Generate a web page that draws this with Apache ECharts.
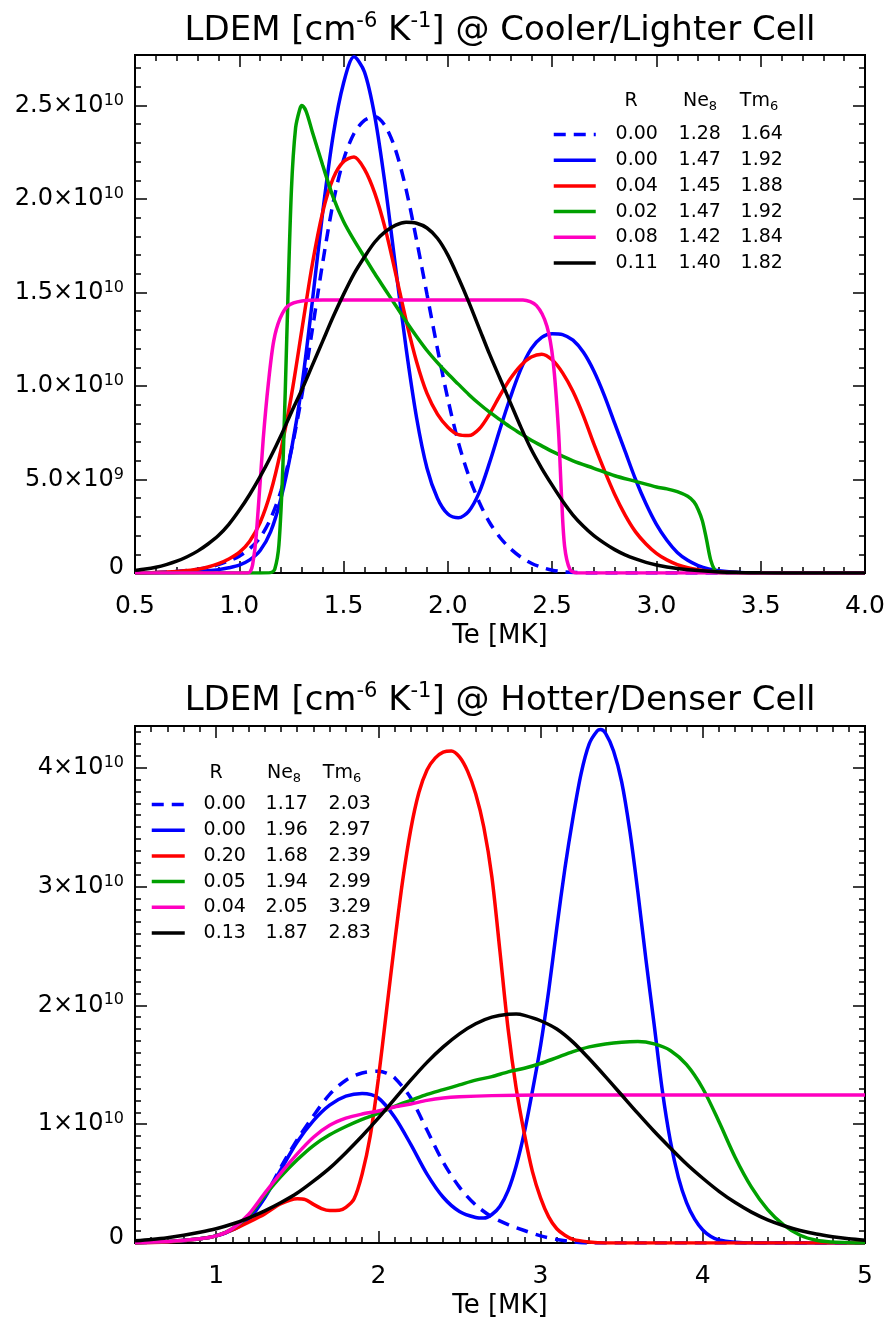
<!DOCTYPE html>
<html>
<head>
<meta charset="utf-8">
<script src="https://cdn.jsdelivr.net/npm/echarts@6/dist/echarts.min.js"></script>
<style>
  html, body { margin: 0; padding: 0; background: #fff; }
  #chart { width: 887px; height: 1324px; }
</style>
</head>
<body>
<div id="chart"></div>
<script>
// LDEM curves: [Te in MK, LDEM in units of 1e10 cm^-6 K^-1]

// ---- Cooler / Lighter cell ----
const coolDashed = [[0.5,0],[0.6,0.003],[0.7,0.008],[0.75,0.013],[0.8,0.02],[0.85,0.03],[0.9,0.045],[0.95,0.065],[1.0,0.09],[1.05,0.13],[1.1,0.19],[1.15,0.29],[1.2,0.44],[1.25,0.66],[1.3,0.95],[1.35,1.3],[1.4,1.66],[1.45,1.98],[1.5,2.21],[1.55,2.35],[1.6,2.42],[1.65,2.44],[1.7,2.39],[1.75,2.26],[1.8,2.05],[1.85,1.78],[1.9,1.49],[1.95,1.2],[2.0,0.93],[2.05,0.7],[2.1,0.52],[2.15,0.38],[2.2,0.27],[2.25,0.19],[2.3,0.13],[2.35,0.085],[2.4,0.052],[2.45,0.03],[2.5,0.015],[2.55,0.007],[2.6,0.003],[2.7,0],[3.0,0],[3.5,0],[4.0,0]];
const coolBlue = [[0.5,0],[0.6,0.001],[0.7,0.003],[0.8,0.008],[0.85,0.012],[0.9,0.018],[0.95,0.028],[1.0,0.042],[1.05,0.07],[1.1,0.12],[1.15,0.22],[1.2,0.4],[1.25,0.66],[1.3,1.0],[1.35,1.45],[1.4,1.93],[1.45,2.34],[1.5,2.62],[1.55,2.76],[1.6,2.68],[1.65,2.44],[1.7,2.07],[1.75,1.63],[1.8,1.2],[1.85,0.83],[1.9,0.56],[1.95,0.4],[2.0,0.315],[2.05,0.295],[2.1,0.33],[2.15,0.43],[2.2,0.59],[2.25,0.77],[2.3,0.94],[2.35,1.09],[2.4,1.2],[2.45,1.26],[2.5,1.28],[2.55,1.275],[2.6,1.245],[2.65,1.18],[2.7,1.08],[2.75,0.95],[2.8,0.8],[2.85,0.65],[2.9,0.5],[2.95,0.37],[3.0,0.26],[3.05,0.175],[3.1,0.11],[3.15,0.068],[3.2,0.04],[3.25,0.022],[3.3,0.012],[3.4,0.003],[3.5,0],[4.0,0]];
const coolRed = [[0.5,0],[0.55,0.001],[0.6,0.003],[0.65,0.005],[0.7,0.008],[0.75,0.013],[0.8,0.02],[0.85,0.032],[0.9,0.05],[0.95,0.075],[1.0,0.11],[1.05,0.17],[1.1,0.27],[1.15,0.43],[1.2,0.66],[1.25,0.95],[1.3,1.3],[1.35,1.65],[1.4,1.93],[1.45,2.11],[1.5,2.2],[1.55,2.225],[1.6,2.16],[1.65,2.03],[1.7,1.84],[1.75,1.6],[1.8,1.35],[1.85,1.13],[1.9,0.96],[1.95,0.85],[2.0,0.78],[2.05,0.74],[2.1,0.735],[2.15,0.77],[2.2,0.85],[2.25,0.95],[2.3,1.04],[2.35,1.11],[2.4,1.155],[2.45,1.17],[2.5,1.14],[2.55,1.07],[2.6,0.97],[2.65,0.84],[2.7,0.69],[2.75,0.55],[2.8,0.42],[2.85,0.31],[2.9,0.22],[2.95,0.155],[3.0,0.105],[3.05,0.07],[3.1,0.045],[3.15,0.028],[3.2,0.017],[3.25,0.01],[3.3,0.006],[3.4,0.002],[3.5,0],[4.0,0]];
const coolGreen = [[0.5,0],[1.1,0],[1.15,0.002],[1.17,0.02],[1.19,0.15],[1.21,0.6],[1.23,1.35],[1.25,2.05],[1.27,2.38],[1.29,2.48],[1.3,2.5],[1.32,2.47],[1.35,2.36],[1.4,2.18],[1.45,2.01],[1.5,1.88],[1.55,1.78],[1.6,1.69],[1.65,1.6],[1.7,1.515],[1.75,1.43],[1.8,1.345],[1.85,1.265],[1.9,1.19],[1.95,1.125],[2.0,1.065],[2.05,1.01],[2.1,0.955],[2.15,0.905],[2.2,0.86],[2.25,0.82],[2.3,0.78],[2.35,0.745],[2.4,0.71],[2.45,0.68],[2.5,0.65],[2.6,0.6],[2.7,0.56],[2.8,0.52],[2.9,0.49],[3.0,0.46],[3.05,0.45],[3.1,0.435],[3.15,0.41],[3.18,0.38],[3.2,0.34],[3.22,0.28],[3.24,0.18],[3.26,0.07],[3.28,0.015],[3.3,0.003],[3.35,0],[4.0,0]];
const coolPink = [[0.5,0],[1.04,0],[1.07,0.09],[1.09,0.33],[1.115,0.72],[1.14,1.02],[1.165,1.24],[1.195,1.36],[1.235,1.43],[1.3,1.455],[1.4,1.46],[1.6,1.46],[1.8,1.46],[2.0,1.46],[2.2,1.46],[2.36,1.46],[2.425,1.43],[2.475,1.32],[2.505,1.13],[2.53,0.77],[2.545,0.41],[2.56,0.14],[2.585,0.02],[2.62,0],[3.0,0],[3.5,0],[4.0,0]];
const coolBlack = [[0.5,0.014],[0.55,0.021],[0.6,0.031],[0.65,0.045],[0.7,0.063],[0.75,0.087],[0.8,0.117],[0.85,0.155],[0.9,0.2],[0.95,0.26],[1.0,0.335],[1.05,0.42],[1.1,0.515],[1.15,0.62],[1.2,0.735],[1.25,0.86],[1.3,0.98],[1.35,1.11],[1.4,1.24],[1.45,1.37],[1.5,1.49],[1.55,1.6],[1.6,1.69],[1.65,1.77],[1.7,1.825],[1.75,1.86],[1.8,1.875],[1.85,1.87],[1.9,1.845],[1.95,1.79],[2.0,1.7],[2.05,1.58],[2.1,1.45],[2.15,1.31],[2.2,1.17],[2.25,1.04],[2.3,0.91],[2.35,0.78],[2.4,0.66],[2.45,0.56],[2.5,0.47],[2.55,0.385],[2.6,0.31],[2.65,0.25],[2.7,0.2],[2.75,0.16],[2.8,0.125],[2.85,0.097],[2.9,0.075],[2.95,0.057],[3.0,0.043],[3.05,0.032],[3.1,0.024],[3.2,0.013],[3.3,0.006],[3.4,0.003],[3.5,0.001],[3.7,0],[4.0,0]];

// ---- Hotter / Denser cell ----
const hotDashed = [[0.5,0.003],[0.7,0.01],[0.9,0.035],[1.0,0.06],[1.1,0.11],[1.2,0.2],[1.3,0.39],[1.4,0.64],[1.5,0.87],[1.6,1.07],[1.7,1.25],[1.8,1.37],[1.9,1.43],[2.0,1.445],[2.05,1.43],[2.1,1.39],[2.2,1.22],[2.3,0.95],[2.4,0.68],[2.5,0.47],[2.6,0.32],[2.7,0.22],[2.8,0.155],[2.9,0.105],[3.0,0.06],[3.1,0.03],[3.2,0.01],[3.3,0],[4.0,0],[5.0,0]];
const hotBlue = [[0.5,0.003],[0.7,0.01],[0.9,0.035],[1.0,0.06],[1.1,0.11],[1.2,0.2],[1.3,0.38],[1.4,0.62],[1.5,0.85],[1.6,1.03],[1.7,1.16],[1.8,1.235],[1.9,1.258],[2.0,1.22],[2.1,1.06],[2.2,0.83],[2.3,0.58],[2.4,0.385],[2.5,0.265],[2.6,0.215],[2.65,0.21],[2.7,0.24],[2.75,0.31],[2.8,0.44],[2.85,0.65],[2.9,0.93],[2.95,1.28],[3.0,1.66],[3.05,2.12],[3.1,2.65],[3.15,3.15],[3.2,3.58],[3.25,3.95],[3.3,4.2],[3.35,4.31],[3.37,4.32],[3.4,4.29],[3.45,4.14],[3.5,3.88],[3.55,3.47],[3.6,2.95],[3.65,2.38],[3.7,1.84],[3.75,1.29],[3.8,0.86],[3.85,0.55],[3.9,0.34],[3.95,0.2],[4.0,0.11],[4.05,0.055],[4.1,0.025],[4.2,0.006],[4.3,0],[5.0,0]];
const hotRed = [[0.5,0],[0.7,0.008],[0.8,0.02],[0.9,0.035],[1.0,0.06],[1.1,0.11],[1.2,0.175],[1.3,0.245],[1.4,0.33],[1.5,0.372],[1.55,0.365],[1.6,0.325],[1.65,0.29],[1.7,0.273],[1.76,0.275],[1.8,0.3],[1.85,0.37],[1.9,0.58],[1.95,0.9],[2.0,1.38],[2.05,1.95],[2.1,2.52],[2.15,3.05],[2.2,3.48],[2.25,3.79],[2.3,3.98],[2.35,4.08],[2.4,4.13],[2.45,4.14],[2.5,4.09],[2.55,3.97],[2.6,3.78],[2.65,3.5],[2.7,3.08],[2.75,2.45],[2.8,1.8],[2.85,1.3],[2.9,0.92],[2.95,0.6],[3.0,0.38],[3.05,0.22],[3.1,0.12],[3.15,0.065],[3.2,0.03],[3.3,0.008],[3.4,0],[4.0,0],[5.0,0]];
const hotGreen = [[0.5,0.004],[0.7,0.012],[0.9,0.035],[1.0,0.06],[1.1,0.12],[1.2,0.23],[1.3,0.4],[1.4,0.56],[1.5,0.7],[1.6,0.82],[1.7,0.91],[1.8,0.98],[1.9,1.04],[2.0,1.09],[2.1,1.15],[2.2,1.2],[2.3,1.25],[2.4,1.29],[2.5,1.33],[2.6,1.37],[2.7,1.4],[2.8,1.44],[2.9,1.47],[3.0,1.51],[3.1,1.56],[3.2,1.61],[3.3,1.65],[3.4,1.675],[3.5,1.69],[3.6,1.695],[3.7,1.675],[3.8,1.62],[3.9,1.5],[4.0,1.3],[4.1,1.02],[4.2,0.72],[4.3,0.47],[4.4,0.28],[4.5,0.15],[4.6,0.065],[4.7,0.023],[4.8,0.008],[4.9,0.002],[5.0,0]];
const hotPink = [[0.5,0.004],[0.7,0.012],[0.9,0.035],[1.0,0.06],[1.1,0.12],[1.2,0.24],[1.3,0.42],[1.4,0.59],[1.5,0.75],[1.6,0.89],[1.7,0.99],[1.8,1.05],[1.9,1.085],[2.0,1.11],[2.1,1.145],[2.2,1.17],[2.3,1.2],[2.4,1.22],[2.5,1.23],[2.7,1.24],[3.0,1.245],[3.5,1.245],[4.0,1.245],[4.5,1.245],[5.0,1.245]];
const hotBlack = [[0.5,0.018],[0.6,0.03],[0.7,0.045],[0.8,0.065],[0.9,0.09],[1.0,0.12],[1.1,0.16],[1.2,0.21],[1.3,0.27],[1.4,0.34],[1.5,0.42],[1.6,0.52],[1.7,0.63],[1.8,0.76],[1.9,0.9],[2.0,1.05],[2.1,1.21],[2.2,1.37],[2.3,1.52],[2.4,1.65],[2.5,1.76],[2.6,1.845],[2.7,1.9],[2.8,1.924],[2.85,1.926],[2.9,1.915],[3.0,1.87],[3.1,1.8],[3.2,1.69],[3.3,1.55],[3.4,1.4],[3.5,1.245],[3.6,1.09],[3.7,0.94],[3.8,0.8],[3.9,0.665],[4.0,0.545],[4.1,0.435],[4.2,0.34],[4.3,0.26],[4.4,0.195],[4.5,0.145],[4.6,0.105],[4.7,0.075],[4.8,0.053],[4.9,0.036],[5.0,0.024]];

// legend rows: R, Ne_8, Tm_6
const coolLegendRows = [['0.00','1.28','1.64'],['0.00','1.47','1.92'],['0.04','1.45','1.88'],['0.02','1.47','1.92'],['0.08','1.42','1.84'],['0.11','1.40','1.82']];
const hotLegendRows  = [['0.00','1.17','2.03'],['0.00','1.96','2.97'],['0.20','1.68','2.39'],['0.05','1.94','2.99'],['0.04','2.05','3.29'],['0.13','1.87','2.83']];

// axis ticks and labels
const coolXTicks = [0.5,1.0,1.5,2.0,2.5,3.0,3.5,4.0];
const coolXTickLabels = ['0.5','1.0','1.5','2.0','2.5','3.0','3.5','4.0'];
const coolYTicks = [0,0.5,1.0,1.5,2.0,2.5];
const coolYTickLabels = ['0','5.0×10^9','1.0×10^10','1.5×10^10','2.0×10^10','2.5×10^10'];
const hotXTicks = [1,2,3,4,5];
const hotXTickLabels = ['1','2','3','4','5'];
const hotYTicks = [0,1,2,3,4];
const hotYTickLabels = ['0','1×10^10','2×10^10','3×10^10','4×10^10'];

const titles = ['Cooler/Lighter Cell', 'Hotter/Denser Cell'];

// ---------------------------------------------------------------
const FONT = 'DejaVu Sans';
const COLORS = { blue: '#0000ff', red: '#ff0000', green: '#00a000', pink: '#ff00c0', black: '#000000' };

const coolSeries = [
  { data: coolDashed, color: COLORS.blue, dashed: true },
  { data: coolBlue, color: COLORS.blue },
  { data: coolRed, color: COLORS.red },
  { data: coolGreen, color: COLORS.green },
  { data: coolPink, color: COLORS.pink },
  { data: coolBlack, color: COLORS.black }
];
const hotSeries = [
  { data: hotDashed, color: COLORS.blue, dashed: true },
  { data: hotBlue, color: COLORS.blue },
  { data: hotRed, color: COLORS.red },
  { data: hotGreen, color: COLORS.green },
  { data: hotPink, color: COLORS.pink },
  { data: hotBlack, color: COLORS.black }
];

function stepList(min, max, step) {
  const out = [];
  const n = Math.floor((max - min) / step + 1e-9);
  for (let i = 0; i <= n; i++) out.push(+(min + i * step).toFixed(6));
  return out;
}

// "a×10^b" -> rich text with a raised exponent; a lone "0" sits a little higher
function sciRich(s) {
  if (s === '0') return '{z|0}';
  const i = s.indexOf('^');
  return i < 0 ? '{m|' + s + '}' : '{m|' + s.slice(0, i) + '}{s|' + s.slice(i + 1) + '}';
}

const tickLine = { color: '#000', width: 1.5 };

// four axes per direction: labelled major, minor, mirrored major, mirrored minor
function buildAxes(dim, gridIndex, min, max, majors, labels, minorStep, extra) {
  const minors = stepList(min, max, minorStep).filter(v => !majors.some(m => Math.abs(m - v) < 1e-6));
  const sides = dim === 'x' ? ['bottom', 'top'] : ['left', 'right'];
  const base = { type: 'value', gridIndex, min, max, splitLine: { show: false },
                 axisLine: { show: false, onZero: false } };
  const fs = dim === 'x' ? 25 : 24;
  const out = [];
  sides.forEach((pos, si) => {
    const major = Object.assign({}, base, {
      position: pos,
      axisTick: { show: true, inside: true, length: 12, lineStyle: tickLine, customValues: majors },
      axisLabel: { show: false }
    });
    if (si === 0) {
      major.axisLabel = {
        show: true,
        customValues: majors,
        margin: dim === 'x' ? 20 : 11,
        formatter: v => {
          const k = majors.findIndex(m => Math.abs(m - v) < 1e-6);
          return k < 0 ? '' : (dim === 'x' ? '{m|' + labels[k] + '}' : sciRich(labels[k]));
        },
        rich: {
          m: { fontSize: fs, fontFamily: FONT, color: '#000', lineHeight: 26 },
          z: { fontSize: fs, fontFamily: FONT, color: '#000', lineHeight: 26, padding: [0, 0, 11, 0] },
          s: { fontSize: 16, fontFamily: FONT, color: '#000', lineHeight: 14, verticalAlign: 'top' }
        }
      };
      Object.assign(major, extra || {});
    }
    out.push(major);
    out.push(Object.assign({}, base, {
      position: pos,
      axisTick: { show: true, inside: true, length: 6, lineStyle: tickLine, customValues: minors },
      axisLabel: { show: false }
    }));
  });
  return out;
}

const xName = {
  name: 'Te [MK]', nameLocation: 'middle', nameGap: 50,
  nameTextStyle: { fontSize: 26, fontFamily: FONT, color: '#000' }
};

const coolYMax = 2.77;
const hotYMax = 4.35;

const xAxes = [].concat(
  buildAxes('x', 0, 0.5, 4.0, coolXTicks, coolXTickLabels, 0.1, xName),
  buildAxes('x', 1, 0.5, 5.0, hotXTicks, hotXTickLabels, 0.1, xName)
);
const yAxes = [].concat(
  buildAxes('y', 0, 0, coolYMax, coolYTicks, coolYTickLabels, 0.1),
  buildAxes('y', 1, 0, hotYMax, hotYTicks, hotYTickLabels, 0.1)
);

function makeSeries(list, prefix, axisIndex) {
  return list.map((s, i) => ({
    name: prefix + i,
    type: 'line',
    xAxisIndex: axisIndex,
    yAxisIndex: axisIndex,
    data: s.data,
    symbol: 'none',
    showSymbol: false,
    smooth: 0.3,
    animation: false,
    itemStyle: { color: s.color },
    lineStyle: { color: s.color, width: 3.5, type: s.dashed ? [12, 8] : 'solid' },
    emphasis: { disabled: true },
    z: 2 + i
  }));
}

function legendFor(rows, prefix, left, top, iconW, widths) {
  const cell = w => ({ width: w, align: 'center', fontSize: 19, fontFamily: FONT, color: '#000', lineHeight: 20 });
  return {
    data: rows.map((r, i) => prefix + i),
    orient: 'vertical',
    left, top,
    itemWidth: iconW,
    itemHeight: 14,
    itemGap: 6.7,
    selectedMode: false,
    padding: 0,
    itemStyle: { opacity: 0 },
    lineStyle: { width: 3.5 },
    formatter: name => {
      const r = rows[+name.slice(prefix.length)];
      return '{a|' + r[0] + '}{b|' + r[1] + '}{c|' + r[2] + '}';
    },
    textStyle: { rich: { a: cell(widths[0]), b: cell(widths[1]), c: cell(widths[2]) } }
  };
}

const headRich = {
  m: { fontSize: 19, fontFamily: FONT, fill: '#000', lineHeight: 24 },
  b: { fontSize: 13, fontFamily: FONT, fill: '#000', lineHeight: 12, verticalAlign: 'bottom' }
};
function headerTexts(y, xs) {
  const t = ['{m|R}', '{m|Ne}{b|8}', '{m|Tm}{b|6}'];
  return xs.map((x, i) => ({
    type: 'text', x, y, silent: true,
    style: { text: t[i], rich: headRich, align: 'center', verticalAlign: 'middle', fill: '#000' }
  }));
}

const titleRich = {
  t: { fontSize: 34, fontFamily: FONT, fill: '#000', lineHeight: 40 },
  s: { fontSize: 21, fontFamily: FONT, fill: '#000', lineHeight: 22, verticalAlign: 'top' }
};
function titleText(y, label) {
  return {
    type: 'text', x: 500, y, silent: true,
    style: {
      text: '{t|LDEM [cm}{s|-6}{t| K}{s|-1}{t|] @ ' + label + '}',
      rich: titleRich, align: 'center', verticalAlign: 'middle', fill: '#000'
    }
  };
}

const option = {
  backgroundColor: '#ffffff',
  animation: false,
  grid: [
    { left: 135, top: 55, width: 730, height: 518, show: true, borderColor: '#000', borderWidth: 2,
      backgroundColor: 'rgba(0,0,0,0)', containLabel: false, outerBoundsMode: 'none' },
    { left: 135, top: 726, width: 730, height: 517, show: true, borderColor: '#000', borderWidth: 2,
      backgroundColor: 'rgba(0,0,0,0)', containLabel: false, outerBoundsMode: 'none' }
  ],
  xAxis: xAxes,
  yAxis: yAxes,
  legend: [
    legendFor(coolLegendRows, 'cool', 552, 125, 42, [72, 54, 70]),
    legendFor(hotLegendRows, 'hot', 150, 795, 33, [70, 54, 72])
  ],
  graphic: [].concat(
    [titleText(31, titles[0]), titleText(701, titles[1])],
    headerTexts(101, [631, 700, 759]),
    headerTexts(773, [216, 284, 342])
  ),
  series: [].concat(makeSeries(coolSeries, 'cool', 0), makeSeries(hotSeries, 'hot', 4))
};

const chart = echarts.init(document.getElementById('chart'), null, { renderer: 'canvas' });
chart.setOption(option);
</script>
</body>
</html>
